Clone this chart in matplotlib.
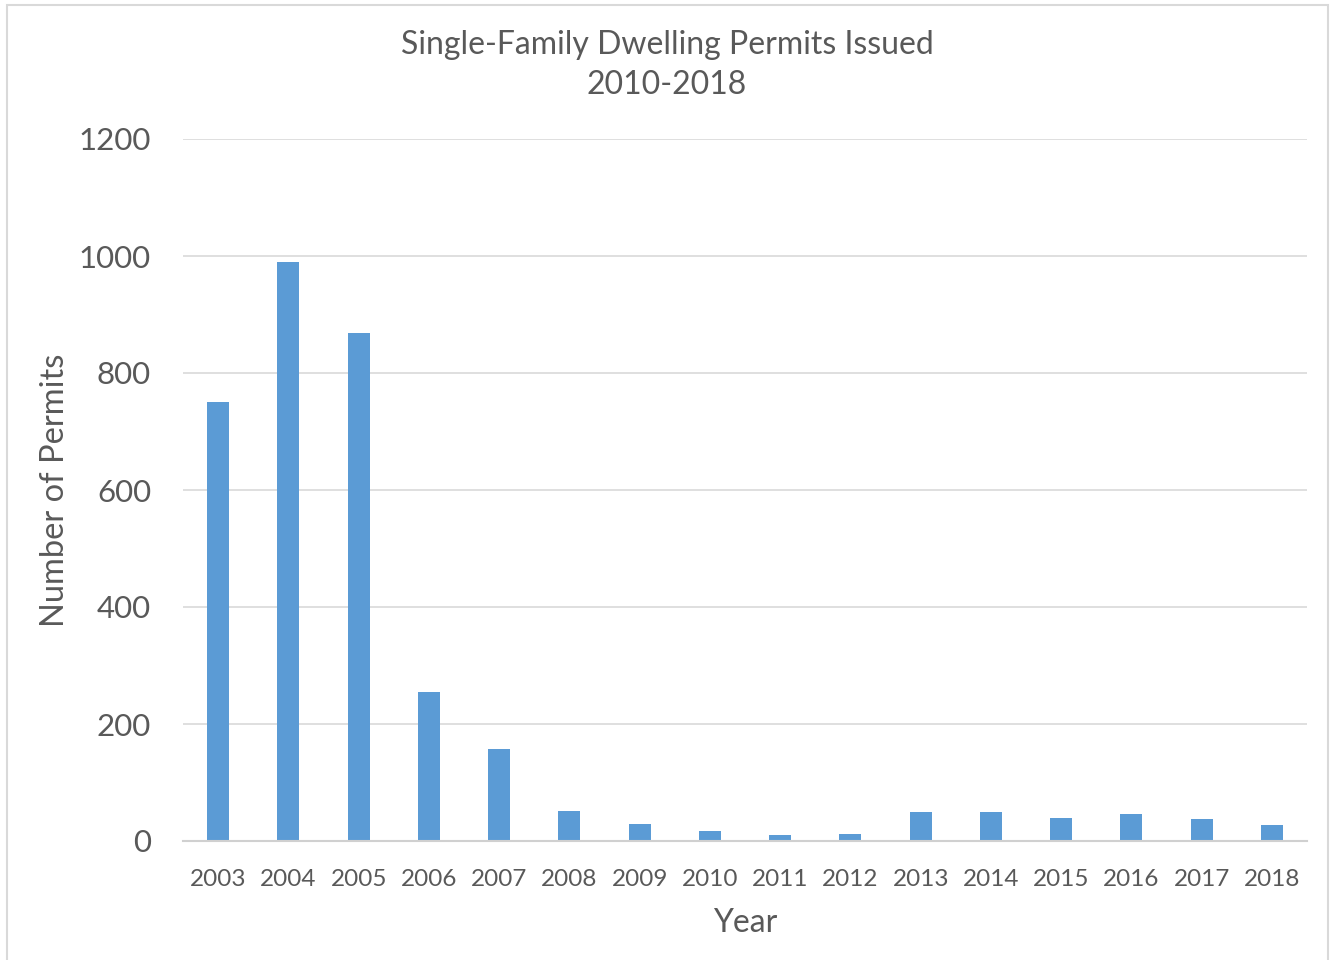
import matplotlib
matplotlib.use("Agg")
import matplotlib.pyplot as plt
from matplotlib.patches import Rectangle

# Permit counts by year
years = ["2003", "2004", "2005", "2006", "2007", "2008", "2009", "2010",
         "2011", "2012", "2013", "2014", "2015", "2016", "2017", "2018"]
permits = [750, 990, 868, 255, 157, 51, 29, 17, 11, 12, 49, 49, 39, 46, 38, 27]
y_ticks = [0, 200, 400, 600, 800, 1000, 1200]

text_color = "#595959"
bar_color = "#5b9bd5"
grid_color = "#d9d9d9"

plt.rcParams["font.family"] = ["Lato", "DejaVu Sans"]

fig = plt.figure(figsize=(13.33, 9.6), dpi=100)
ax = fig.add_axes([183 / 1333, 1 - 841 / 960, (1307 - 183) / 1333, (841 - 139) / 960])

x = range(len(years))
ax.bar(x, permits, width=0.31, color=bar_color, zorder=3)

ax.set_xlim(-0.5, len(years) - 0.5)
ax.set_ylim(0, 1200)
ax.set_yticks(y_ticks)
ax.set_xticks(list(x))
ax.set_xticklabels(years)
ax.tick_params(axis="x", length=0, labelsize=17.5, colors=text_color, pad=20)
ax.tick_params(axis="y", length=0, labelsize=22.5, colors=text_color, pad=23)
ax.yaxis.grid(True, color=grid_color, linewidth=1.2, zorder=0)

for side in ["top", "right", "left"]:
    ax.spines[side].set_visible(False)
ax.spines["bottom"].set_color("#d0d0d0")
ax.spines["bottom"].set_linewidth(1.5)
ax.spines["bottom"].set_zorder(4)

fig.text(745 / 1333, 1 - 923 / 960, "Year", ha="center", va="center",
         fontsize=23, color=text_color)
fig.text(55 / 1333, 1 - 490 / 960, "Number of Permits", ha="center", va="center",
         rotation=90, fontsize=23.5, color=text_color)
fig.text(667 / 1333, 1 - 65 / 960, "Single-Family Dwelling Permits Issued\n2010-2018",
         ha="center", va="center", fontsize=23, color=text_color, linespacing=1.45)

# light frame around the chart area
fig.patches.append(Rectangle((7 / 1333, -0.05), (1328 - 7) / 1333, 1.05 - 5 / 960,
                             transform=fig.transFigure, fill=False,
                             edgecolor="#d9d9d9", linewidth=1.5))

fig.savefig("out.png", dpi=100, facecolor="white")
